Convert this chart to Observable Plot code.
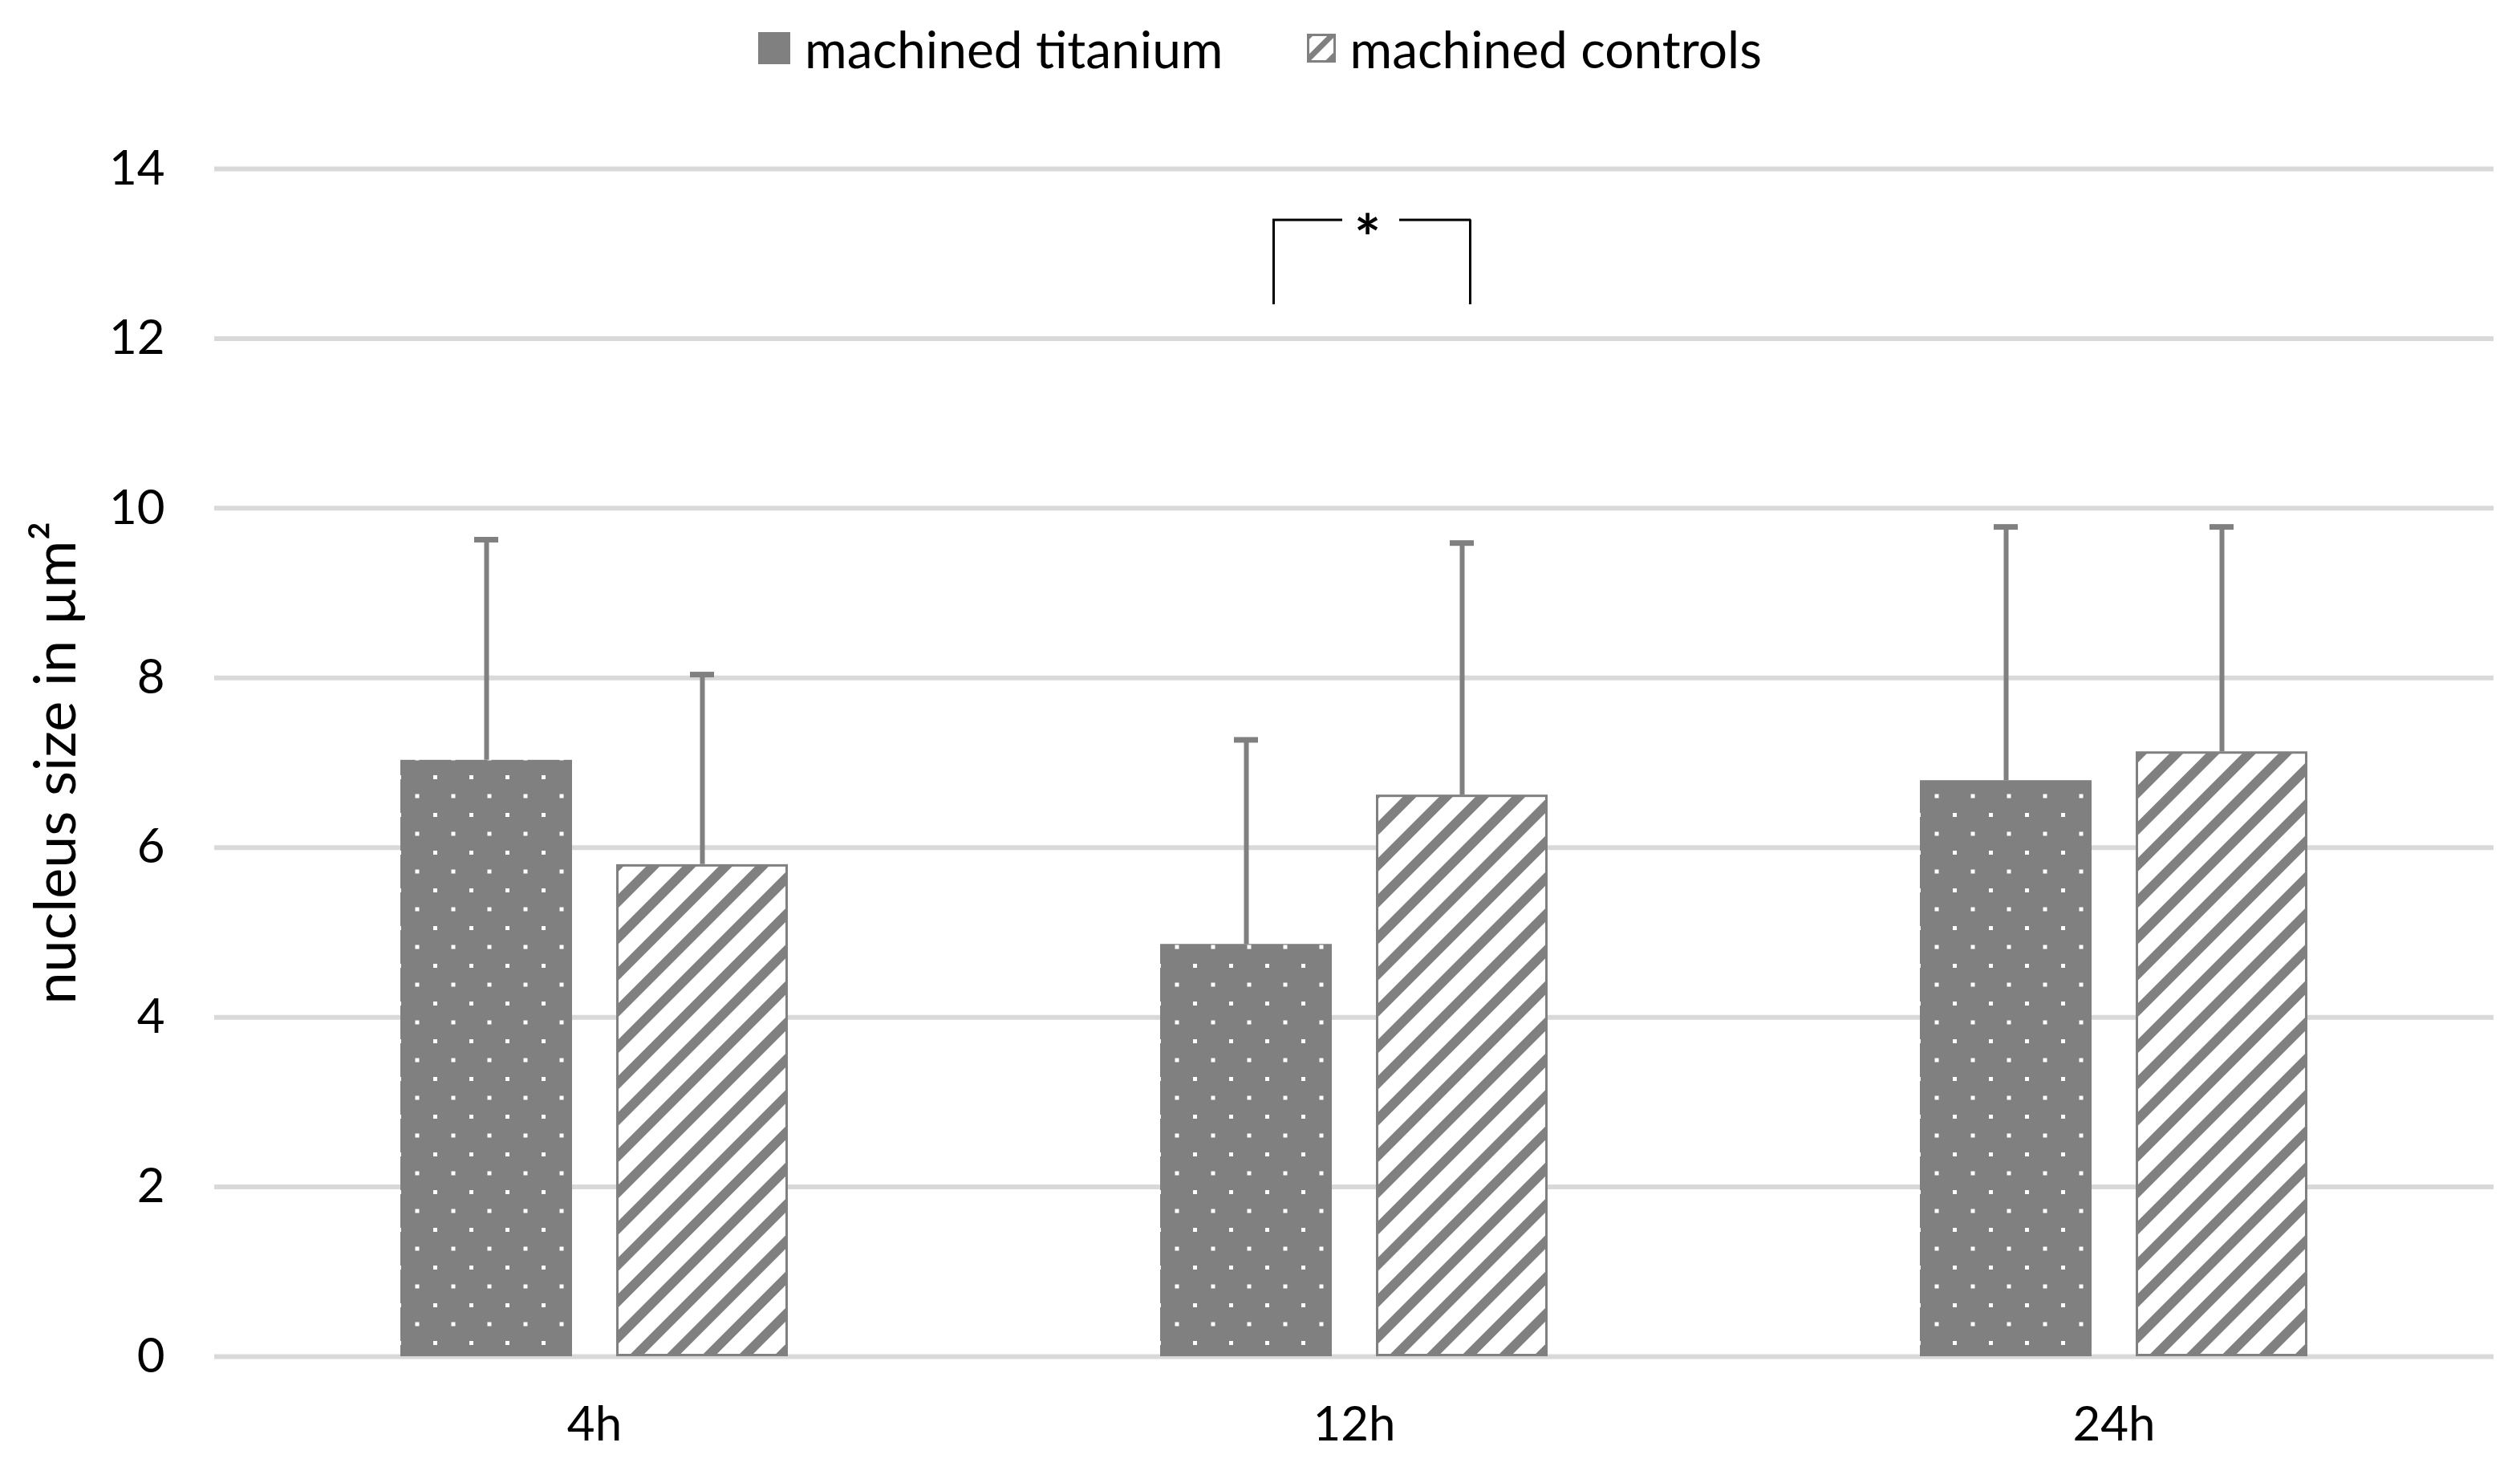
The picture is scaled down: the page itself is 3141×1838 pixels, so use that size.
<!DOCTYPE html>
<html><head><meta charset="utf-8">
<script src="https://cdn.jsdelivr.net/npm/d3@7"></script>
<script src="https://cdn.jsdelivr.net/npm/@observablehq/plot@0.6"></script>
<style>
html,body{margin:0;padding:0;background:#fff;overflow:hidden;}
#legend{height:120px;display:flex;justify-content:center;align-items:center;font-family:Lato,sans-serif;font-size:64px;color:#000;}
.item{display:flex;align-items:center;}
.item svg{margin-right:18px;}
.item + .item{margin-left:104px;}
g[aria-label="y-axis label"] text, g[aria-label="y-axis label"]{font-size:72px;}
</style></head><body>
<div id="legend"></div>
<div id="chart"></div>
<script>
// ---- data ----
const times = ["4h", "12h", "24h"];
const series = ["machined titanium", "machined controls"];
const titaniumMean = [7.03, 4.86, 6.79];
const titaniumSD = [2.60, 2.41, 2.99];
const controlsMean = [5.80, 6.62, 7.13];
const controlsSD = [2.24, 2.97, 2.65];
const yTicks = [0, 2, 4, 6, 8, 10, 12, 14];
const significance = [{time: "12h", label: "*", low: 12.4, high: 13.4, star: 13.15}];

const rows = times.flatMap((t, i) => [
  {time: t, series: series[0], mean: titaniumMean[i], sd: titaniumSD[i]},
  {time: t, series: series[1], mean: controlsMean[i], sd: controlsSD[i]}
]);

const GRAY = "#808080";
const patterns = `
<pattern id="dots" patternUnits="userSpaceOnUse" width="45" height="47">
  <rect width="45" height="47" fill="${GRAY}"/>
  <rect x="0" y="0" width="5" height="5" fill="#fff"/>
  <rect x="22.5" y="23.5" width="5" height="5" fill="#fff"/>
</pattern>
<pattern id="stripes" patternUnits="userSpaceOnUse" width="32" height="32" patternTransform="rotate(45)">
  <rect width="32" height="32" fill="#fff"/>
  <rect width="12" height="32" fill="${GRAY}"/>
</pattern>`;

// ---- legend ----
const legend = document.getElementById("legend");
legend.innerHTML = `
<div class="item"><svg width="40" height="40"><rect width="40" height="40" fill="${GRAY}"/></svg><span>${series[0]}</span></div>
<div class="item"><svg width="36" height="36"><defs><pattern id="lstripes" patternUnits="userSpaceOnUse" width="20" height="20" patternTransform="rotate(45)"><rect width="20" height="20" fill="#fff"/><rect width="7" height="20" fill="${GRAY}"/></pattern></defs><rect x="1.5" y="1.5" width="33" height="33" fill="url(#lstripes)" stroke="${GRAY}" stroke-width="3"/></svg><span>${series[1]}</span></div>`;

// ---- plot ----
const chart = Plot.plot({
  width: 3141,
  height: 1718,
  marginTop: 90,
  marginBottom: 148,
  marginLeft: 267,
  marginRight: 33,
  style: {fontFamily: "Lato, sans-serif", fontSize: "60px", color: "#000", background: "#fff"},
  fx: {domain: times, padding: 0, label: null, tickSize: 0, tickPadding: 62, axis: "bottom"},
  x: {domain: series, paddingInner: 0.204, paddingOuter: 0.856, axis: null},
  y: {domain: [0, 14], ticks: yTicks, tickSize: 0, tickPadding: 62,
      label: "nucleus size in µm²", labelAnchor: "center", labelOffset: 225, labelArrow: "none"},
  marks: [
    Plot.ruleY(yTicks, {stroke: "#d9d9d9", strokeWidth: 6}),
    Plot.barY(rows.filter(d => d.series === series[0]), {fx: "time", x: "series", y: "mean", fill: "url(#dots)"}),
    Plot.barY(rows.filter(d => d.series === series[1]), {fx: "time", x: "series", y: "mean", fill: "url(#stripes)", stroke: GRAY, strokeWidth: 3, inset: 1.5}),
    Plot.ruleX(rows, {fx: "time", x: "series", y1: "mean", y2: d => d.mean + d.sd, stroke: GRAY, strokeWidth: 6}),
    Plot.tickY(rows, {fx: "time", x: "series", y: d => d.mean + d.sd, stroke: GRAY, strokeWidth: 7, insetLeft: 92, insetRight: 92}),
    // significance bracket
    Plot.ruleX(significance, {fx: "time", x: () => series[0], y1: "low", y2: "high", dx: 34, stroke: "#000", strokeWidth: 3}),
    Plot.ruleX(significance, {fx: "time", x: () => series[1], y1: "low", y2: "high", dx: 10, stroke: "#000", strokeWidth: 3}),
    Plot.tickY(significance, {fx: "time", x: () => series[0], y: "high", stroke: "#000", strokeWidth: 3, insetLeft: 140, insetRight: -13}),
    Plot.tickY(significance, {fx: "time", x: () => series[1], y: "high", stroke: "#000", strokeWidth: 3, insetLeft: 29, insetRight: 96}),
    Plot.text(significance, {fx: "time", x: () => series[1], y: "star", text: "label", dx: -118, fontSize: 78, fontWeight: "bold", fill: "#000"})
  ]
});
const defs = document.createElementNS("http://www.w3.org/2000/svg", "defs");
defs.innerHTML = patterns;
chart.insertBefore(defs, chart.firstChild);
document.getElementById("chart").appendChild(chart);
</script>
</body></html>
